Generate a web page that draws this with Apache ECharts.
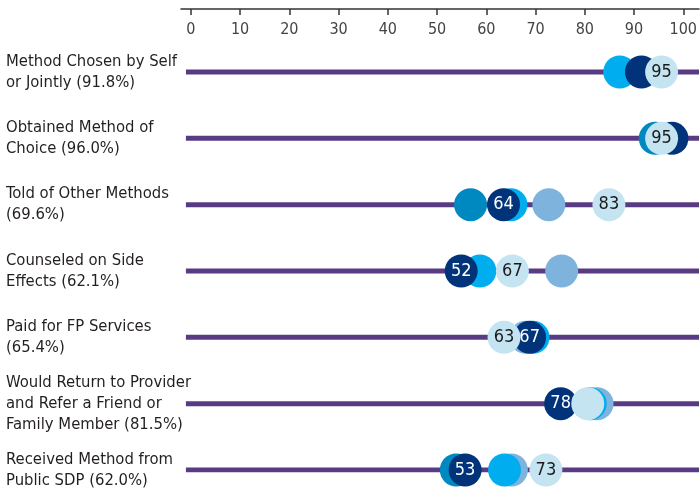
<!DOCTYPE html>
<html>
<head>
<meta charset="utf-8">
<script src="https://cdn.jsdelivr.net/npm/echarts@6/dist/echarts.min.js"></script>
<style>
html,body{margin:0;padding:0;background:#fff;}
#chart{width:700px;height:503px;}
</style>
</head>
<body>
<div id="chart"></div>
<script>
// ---- data ----
const categories = [
  'Method Chosen by Self\nor Jointly (91.8%)',
  'Obtained Method of\nChoice (96.0%)',
  'Told of Other Methods\n(69.6%)',
  'Counseled on Side\nEffects (62.1%)',
  'Paid for FP Services\n(65.4%)',
  'Would Return to Provider\nand Refer a Friend or\nFamily Member (81.5%)',
  'Received Method from\nPublic SDP (62.0%)'
];
const xTicks = [0, 10, 20, 30, 40, 50, 60, 70, 80, 90, 100];

// circle positions as drawn (null = hidden / not visible)
const steelValues = [null, null, 72.7, 75.3, 68.0, 82.5, 65.1];
const tealValues  = [null, 94.3, 56.8, null, null, null, 53.9];
const cyanValues  = [87.1, null, 65.0, 58.7, 69.5, 81.1, 63.7];
const navyValues  = [91.5, 97.7, 63.5, 54.9, 68.8, 75.1, 55.7];
const lightValues = [95.6, 95.6, 84.9, 65.3, 63.6, 80.6, 72.1];

// printed value labels
const navyLabels  = [null, null, 64, 52, 67, 78, 53];
const lightLabels = [95, 95, 83, 67, 63, null, 73];

// ---- style ----
const FONT = "'Liberation Sans Narrow', 'DejaVu Sans Condensed', 'Roboto Condensed', sans-serif";
const X_MIN = -2, X_MAX = 103.2, LINE_START = -1;
const SIZE = 33;

const chart = echarts.init(document.getElementById('chart'));

function pts(vals) {
  return vals.map((v, i) => v == null ? null : [v, i]);
}
function dotSeries(name, vals, color, z, labels, labelColor) {
  return {
    name: name,
    type: 'scatter',
    symbol: 'circle',
    symbolSize: SIZE,
    z: z,
    silent: true,
    itemStyle: { color: color, opacity: 1 },
    data: pts(vals),
    label: {
      show: !!labels,
      position: 'inside',
      fontFamily: FONT,
      fontSize: 18,
      color: labelColor,
      formatter: p => {
        const t = labels ? labels[p.dataIndex] : null;
        return t == null ? '' : String(t);
      }
    }
  };
}

const rowLines = categories.map((c, i) => ({
  type: 'line',
  silent: true,
  symbol: 'none',
  z: 1,
  lineStyle: { color: '#583b82', width: 5 },
  data: [[LINE_START, i], [X_MAX, i]]
}));

chart.setOption({
  animation: false,
  grid: { left: 181, right: 0, top: 9, bottom: 33, containLabel: false },
  xAxis: {
    type: 'value',
    position: 'top',
    min: X_MIN,
    max: X_MAX,
    axisLine: { show: true, onZero: false, lineStyle: { color: '#333', width: 1.5 } },
    axisTick: { show: true, inside: true, length: 6, customValues: xTicks, lineStyle: { color: '#333', width: 1.5 } },
    axisLabel: { show: true, inside: true, margin: 13, customValues: xTicks, fontFamily: FONT, fontSize: 16, color: '#444' },
    splitLine: { show: false }
  },
  yAxis: {
    type: 'value',
    inverse: true,
    min: -0.95,
    max: 6,
    axisLine: { show: false },
    axisTick: { show: false },
    splitLine: { show: false },
    axisLabel: {
      show: true,
      customValues: categories.map((c, i) => i),
      formatter: v => categories[Math.round(v)] || '',
      align: 'left',
      margin: 175,
      fontFamily: FONT,
      fontSize: 16.5,
      lineHeight: 21,
      color: '#231f20'
    }
  },
  series: [
    ...rowLines,
    dotSeries('steel', steelValues, '#7db3dc', 2, null, null),
    dotSeries('teal', tealValues, '#0089c1', 3, null, null),
    dotSeries('cyan', cyanValues, '#00aeef', 4, null, null),
    dotSeries('navy', navyValues, '#00337a', 5, navyLabels, '#ffffff'),
    dotSeries('light', lightValues, '#c5e4f2', 6, lightLabels, '#1a1a1a')
  ]
});
</script>
</body>
</html>
